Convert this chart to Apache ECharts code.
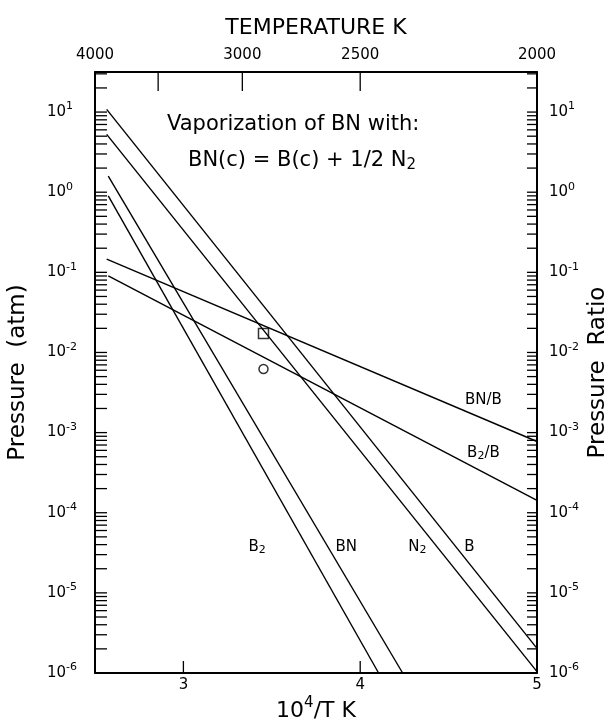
<!DOCTYPE html>
<html><head><meta charset="utf-8">
<script src="https://cdn.jsdelivr.net/npm/echarts@6/dist/echarts.min.js"></script>
<style>html,body{margin:0;padding:0;background:#fff}#c{width:612px;height:725px}</style>
</head><body><div id="c"></div>
<script>
const FONT = '"DejaVu Sans", sans-serif';
// x axis: 10^4/T ; y axis: pressure (atm) / pressure ratio (log)
const X_MIN = 2.5, X_MAX = 5;
const Y_MIN = 1e-6, Y_MAX = 31.6228;

// straight lines: [x, value] at each end
const lineB   = [[2.566, 10.8],   [5.0,   2.03e-6]];
const lineN2  = [[2.566, 5.26],   [5.0,   1.04e-6]];
const lineBN  = [[2.575, 1.59],   [4.240, 1.0e-6]];
const lineB2  = [[2.575, 0.90],   [4.104, 1.0e-6]];
const lineBNB = [[2.566, 0.146],  [5.0,   7.74e-4]];
const lineB2B = [[2.575, 0.0904], [5.0,   1.43e-4]];
const squarePoints = [[3.453, 0.0173]];
const circlePoints = [[3.453, 0.00622]];

const labelTexts = ['B2', 'BN', 'N2', 'B', 'BN/B', 'B2/B'];
const labelX = [3.417, 3.921, 4.323, 4.618, 4.697, 4.697];
const labelY = [3.7e-5, 3.7e-5, 3.7e-5, 3.7e-5, 2.58e-3, 5.5e-4];

const topLabelTemps = [4000, 3000, 2500, 2000];
const topTickTemps = [3500, 3000, 2500];
const bottomTickValues = [3, 4];
const logMantissas = [1, 2, 3, 4, 5, 6, 7, 8, 9];
const logExponents = [-6, -5, -4, -3, -2, -1, 0, 1];

const yTickValues = [];
logExponents.forEach(e => logMantissas.forEach(m => {
  const v = m * Math.pow(10, e);
  if (v <= Y_MAX * 1.0001) yTickValues.push(v);
}));
const tickData = [];
yTickValues.forEach(v => tickData.push([X_MIN, v, 0]));
topTickTemps.forEach(T => tickData.push([1e4 / T, Y_MAX, 1]));
bottomTickValues.forEach(x => tickData.push([x, Y_MIN, 2]));

function toRich(t) { return t.replace(/([A-Z])2/g, '$1{s|2}'); }
function powLabel(v) {
  const e = Math.log10(v), r = Math.round(e);
  if (Math.abs(e - r) > 1e-6) return '';
  return '10{s|' + r + '}';
}
const supRich = { s: { fontSize: 11, fontFamily: FONT, color: '#000', verticalAlign: 'top', lineHeight: 5 } };
const axisLineStyle = { color: '#000', width: 2 };

const chart = echarts.init(document.getElementById('c'), null, { renderer: 'canvas' });
const lineSeries = (d) => ({
  type: 'line', data: d, xAxisIndex: 0, yAxisIndex: 0, showSymbol: false, symbol: 'none',
  lineStyle: { color: '#000', width: 1.4 }, silent: true, animation: false, z: 3
});
chart.setOption({
  backgroundColor: '#fff',
  animation: false,
  grid: { left: 95, top: 72, width: 442, height: 601, outerBoundsMode: 'none', containLabel: false },
  xAxis: [
    { type: 'value', position: 'bottom', min: X_MIN, max: X_MAX, interval: 0.5,
      axisLine: { lineStyle: axisLineStyle }, axisTick: { show: false }, splitLine: { show: false },
      axisLabel: { fontSize: 15, fontFamily: FONT, color: '#000', margin: 5, showMinLabel: true, showMaxLabel: true,
        formatter: v => Math.abs(v - Math.round(v)) < 1e-6 ? String(Math.round(v)) : '' },
      name: '10{s|4}/T K', nameLocation: 'middle', nameGap: 23, nameMoveOverlap: false,
      nameTextStyle: { fontSize: 22, fontFamily: FONT, color: '#000', lineHeight: 30,
        rich: { s: { fontSize: 15, fontFamily: FONT, color: '#000', verticalAlign: 'top', lineHeight: 9 } } } },
    { type: 'value', position: 'top', min: X_MIN, max: X_MAX, interval: 1 / 6,
      axisLine: { lineStyle: axisLineStyle }, axisTick: { show: false }, splitLine: { show: false },
      axisLabel: { fontSize: 15, fontFamily: FONT, color: '#000', margin: 9, showMinLabel: true, showMaxLabel: true,
        formatter: v => { const T = 1e4 / v; const m = topLabelTemps.find(t => Math.abs(T - t) < 1); return m ? String(m) : ''; } },
      name: 'TEMPERATURE K', nameLocation: 'middle', nameGap: 33, nameMoveOverlap: false,
      nameTextStyle: { fontSize: 22, fontFamily: FONT, color: '#000' } }
  ],
  yAxis: [
    { type: 'log', logBase: 10, position: 'left', min: Y_MIN, max: Y_MAX,
      axisLine: { show: true, lineStyle: axisLineStyle }, axisTick: { show: false }, splitLine: { show: false },
      axisLabel: { fontSize: 15, fontFamily: FONT, color: '#000', lineHeight: 22, align: 'left', margin: 48,
        showMinLabel: true, showMaxLabel: true, formatter: powLabel, rich: supRich },
      name: 'Pressure  (atm)', nameLocation: 'middle', nameRotate: 90, nameGap: 65, nameMoveOverlap: false,
      nameTextStyle: { fontSize: 23, fontFamily: FONT, color: '#000' } },
    { type: 'log', logBase: 10, position: 'right', min: Y_MIN, max: Y_MAX,
      axisLine: { show: true, lineStyle: axisLineStyle }, axisTick: { show: false }, splitLine: { show: false },
      axisLabel: { fontSize: 15, fontFamily: FONT, color: '#000', lineHeight: 22, align: 'left', margin: 12,
        showMinLabel: true, showMaxLabel: true, formatter: powLabel, rich: supRich },
      name: 'Pressure  Ratio', nameLocation: 'middle', nameRotate: 90, nameGap: 50, nameMoveOverlap: false,
      nameTextStyle: { fontSize: 23, fontFamily: FONT, color: '#000' } }
  ],
  graphic: [
    { type: 'text', x: 167, y: 125, silent: true,
      style: { text: 'Vaporization of BN with:', fontSize: 21, fontFamily: FONT, fill: '#000', verticalAlign: 'middle' } },
    { type: 'text', x: 188, y: 161, silent: true,
      style: { text: 'BN(c) = B(c) + 1/2 N{s|2}', fontSize: 21, fontFamily: FONT, fill: '#000', verticalAlign: 'middle', lineHeight: 24,
        rich: { s: { fontSize: 15, fontFamily: FONT, fill: '#000', verticalAlign: 'bottom', lineHeight: 12 } } } }
  ],
  series: [
    lineSeries(lineB), lineSeries(lineN2), lineSeries(lineBN), lineSeries(lineB2), lineSeries(lineBNB), lineSeries(lineB2B),
    { type: 'scatter', data: squarePoints, symbol: 'rect', symbolSize: 10, silent: true,
      itemStyle: { color: 'rgba(0,0,0,0)', borderColor: '#000', borderWidth: 1.5 }, z: 4 },
    { type: 'scatter', data: circlePoints, symbol: 'circle', symbolSize: 9, silent: true,
      itemStyle: { color: 'rgba(0,0,0,0)', borderColor: '#000', borderWidth: 1.5 }, z: 4 },
    { type: 'scatter', silent: true, symbolSize: 0, itemStyle: { color: '#000', opacity: 1 }, z: 5,
      data: labelTexts.map((t, i) => ({ name: t, value: [labelX[i], labelY[i]] })),
      label: { show: true, position: 'inside', formatter: p => toRich(p.name), fontSize: 15, fontFamily: FONT,
        color: '#000', opacity: 1, textBorderWidth: 0, lineHeight: 16,
        rich: { s: { fontSize: 11, fontFamily: FONT, color: '#000', verticalAlign: 'bottom', lineHeight: 4 } } } },
    { type: 'custom', silent: true, z: 6, data: tickData, encode: { x: 0, y: 1 },
      renderItem: (params, api) => {
        const kind = api.value(2);
        const p = api.coord([api.value(0), api.value(1)]);
        const st = { stroke: '#000', lineWidth: 1.3 };
        if (kind === 0) {
          const q = api.coord([X_MAX, api.value(1)]);
          return { type: 'group', children: [
            { type: 'line', shape: { x1: p[0], y1: p[1], x2: p[0] + 12, y2: p[1] }, style: st },
            { type: 'line', shape: { x1: q[0], y1: q[1], x2: q[0] - 10, y2: q[1] }, style: st } ] };
        }
        if (kind === 1) return { type: 'line', shape: { x1: p[0], y1: p[1], x2: p[0], y2: p[1] + 19 }, style: st };
        return { type: 'line', shape: { x1: p[0], y1: p[1], x2: p[0], y2: p[1] - 12 }, style: st };
      } }
  ]
});
</script></body></html>
